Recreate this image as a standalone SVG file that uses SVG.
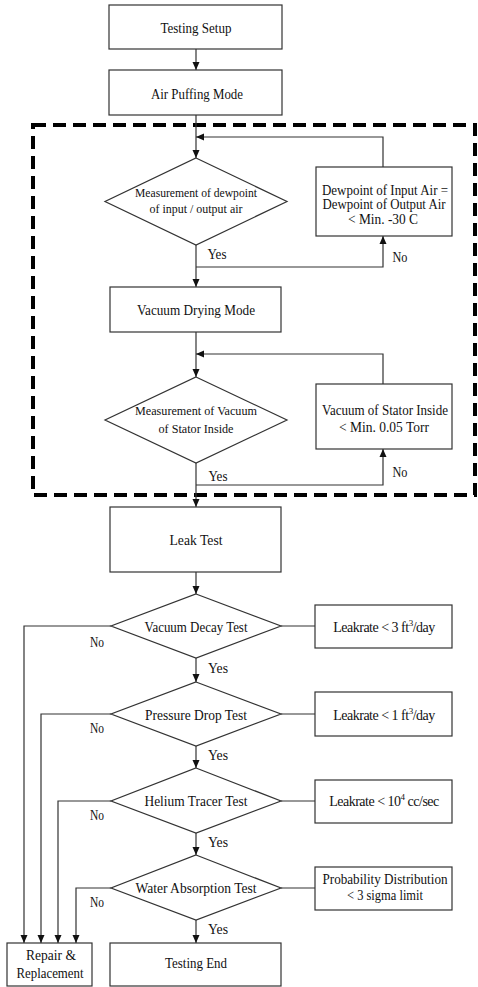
<svg xmlns="http://www.w3.org/2000/svg" width="478" height="987" viewBox="0 0 478 987">
<defs>
<marker id="ah" markerWidth="8" markerHeight="10" refX="8" refY="5" orient="auto" markerUnits="userSpaceOnUse">
<path d="M0,1.5 L8,5 L0,8.5 Z" fill="#111"/>
</marker>
<style>
text{font-family:"Liberation Serif","Times New Roman",serif;fill:#111;text-anchor:middle}
.n rect,.n polygon{fill:#fff;stroke:#333;stroke-width:1.2}
.c path{fill:none;stroke:#333;stroke-width:1.2}
.c .a{marker-end:url(#ah)}
.b{font-size:15px}
.s{font-size:11.5px}
.m{font-size:14px}
.l{font-size:15px}
.r{font-size:14px;letter-spacing:-0.5px}
.sup{font-size:9px}
</style>
</defs>
<rect width="478" height="987" fill="#fff"/>
<rect id="stage" x="33" y="125" width="442" height="370" fill="none" stroke="#000" stroke-width="4" stroke-dasharray="13 7"/>
<g class="c" id="connectors">
<path class="a" d="M196,49 V70"/>
<path class="a" d="M196,115 V158"/>
<path class="a" d="M383,167 V137 H196"/>
<path class="a" d="M196,245 V287"/>
<path class="a" d="M196,267 H383 V236"/>
<path class="a" d="M196,332 V377"/>
<path class="a" d="M383,384 V354 H196"/>
<path class="a" d="M196,463 V507"/>
<path class="a" d="M196,485 H383 V449"/>
<path class="a" d="M196,572 V594"/>
<path d="M281,626 H315"/>
<path class="a" d="M111,626 H24 V943"/>
<path class="a" d="M196,658 V682"/>
<path d="M281,714 H315"/>
<path class="a" d="M111,714 H41 V943"/>
<path class="a" d="M196,746 V768"/>
<path d="M281,801 H315"/>
<path class="a" d="M111,801 H58 V943"/>
<path class="a" d="M196,833 V855"/>
<path d="M281,888 H315"/>
<path class="a" d="M111,888 H76 V943"/>
<path class="a" d="M196,920 V943"/>
</g>
<g id="labels">
<text class="l" x="217" y="259" textLength="19" lengthAdjust="spacingAndGlyphs">Yes</text>
<text class="l" x="400" y="262" textLength="15" lengthAdjust="spacingAndGlyphs">No</text>
<text class="l" x="218" y="481" textLength="19" lengthAdjust="spacingAndGlyphs">Yes</text>
<text class="l" x="400" y="477" textLength="15" lengthAdjust="spacingAndGlyphs">No</text>
<text class="l" x="97" y="647" textLength="14" lengthAdjust="spacingAndGlyphs">No</text>
<text class="l" x="218" y="673" textLength="20" lengthAdjust="spacingAndGlyphs">Yes</text>
<text class="l" x="97" y="733" textLength="14" lengthAdjust="spacingAndGlyphs">No</text>
<text class="l" x="218" y="760" textLength="20" lengthAdjust="spacingAndGlyphs">Yes</text>
<text class="l" x="97" y="820" textLength="14" lengthAdjust="spacingAndGlyphs">No</text>
<text class="l" x="218" y="847" textLength="20" lengthAdjust="spacingAndGlyphs">Yes</text>
<text class="l" x="97" y="907" textLength="14" lengthAdjust="spacingAndGlyphs">No</text>
<text class="l" x="218" y="934" textLength="20" lengthAdjust="spacingAndGlyphs">Yes</text>
</g>
<g class="n" id="testing-setup"><rect x="109" y="5" width="173" height="44"/><text class="b" x="196" y="33" textLength="71" lengthAdjust="spacingAndGlyphs">Testing Setup</text></g>
<g class="n" id="air-puffing"><rect x="109" y="70" width="173" height="45"/><text class="b" x="197" y="99" textLength="92" lengthAdjust="spacingAndGlyphs">Air Puffing Mode</text></g>
<g class="n" id="dewpoint-measure"><polygon points="196,158 287,201.5 196,245 105,201.5"/>
<text class="s" x="196" y="197" textLength="122" lengthAdjust="spacingAndGlyphs">Measurement of dewpoint</text>
<text class="s" x="196" y="213" textLength="93" lengthAdjust="spacingAndGlyphs">of input / output air</text></g>
<g class="n" id="dewpoint-cond"><rect x="316" y="167" width="136" height="69"/>
<text class="m" x="385" y="195" textLength="126" lengthAdjust="spacingAndGlyphs">Dewpoint of Input Air =</text>
<text class="m" x="384" y="209" textLength="123" lengthAdjust="spacingAndGlyphs">Dewpoint of Output Air</text>
<text class="m" x="383" y="224" textLength="70" lengthAdjust="spacingAndGlyphs">&lt; Min. -30 C</text></g>
<g class="n" id="vacuum-drying"><rect x="110" y="287" width="171" height="45"/><text class="b" x="196" y="315" textLength="118" lengthAdjust="spacingAndGlyphs">Vacuum Drying Mode</text></g>
<g class="n" id="vacuum-measure"><polygon points="196,377 287,420 196,463 105,420"/>
<text class="s" x="196" y="415" textLength="122" lengthAdjust="spacingAndGlyphs">Measurement of Vacuum</text>
<text class="s" x="196" y="433" textLength="75" lengthAdjust="spacingAndGlyphs">of Stator Inside</text></g>
<g class="n" id="vacuum-cond"><rect x="316" y="384" width="136" height="65"/>
<text class="m" x="385" y="415" textLength="126" lengthAdjust="spacingAndGlyphs">Vacuum of Stator Inside</text>
<text class="m" x="384" y="432" textLength="90" lengthAdjust="spacingAndGlyphs">&lt; Min. 0.05 Torr</text></g>
<g class="n" id="leak-test"><rect x="110" y="507" width="171" height="65"/><text class="b" x="196" y="545" textLength="53" lengthAdjust="spacingAndGlyphs">Leak Test</text></g>
<g class="n" id="vacuum-decay"><polygon points="196,594 281,626 196,658 111,626"/><text class="b" x="196" y="632" textLength="103" lengthAdjust="spacingAndGlyphs">Vacuum Decay Test</text></g>
<g class="n" id="decay-cond"><rect x="315" y="605" width="137" height="43"/><text class="r" x="384" y="632">Leakrate &lt; 3 ft<tspan class="sup" dy="-6">3</tspan><tspan dy="6">/day</tspan></text></g>
<g class="n" id="pressure-drop"><polygon points="196,682 281,714 196,746 111,714"/><text class="b" x="196" y="720" textLength="102" lengthAdjust="spacingAndGlyphs">Pressure Drop Test</text></g>
<g class="n" id="pressure-cond"><rect x="315" y="692" width="137" height="44"/><text class="r" x="384" y="720">Leakrate &lt; 1 ft<tspan class="sup" dy="-6">3</tspan><tspan dy="6">/day</tspan></text></g>
<g class="n" id="helium-tracer"><polygon points="196,768 281,801 196,833 111,801"/><text class="b" x="196" y="806" textLength="103" lengthAdjust="spacingAndGlyphs">Helium Tracer Test</text></g>
<g class="n" id="helium-cond"><rect x="315" y="780" width="137" height="43"/><text class="r" x="384" y="806">Leakrate &lt; 10<tspan class="sup" dy="-6">4</tspan><tspan dy="6"> cc/sec</tspan></text></g>
<g class="n" id="water-absorption"><polygon points="196,855 281,888 196,920 111,888"/><text class="b" x="196" y="893" textLength="121" lengthAdjust="spacingAndGlyphs">Water Absorption Test</text></g>
<g class="n" id="water-cond"><rect x="315" y="867" width="137" height="43"/>
<text class="m" x="385" y="884" textLength="125" lengthAdjust="spacingAndGlyphs">Probability Distribution</text>
<text class="m" x="385" y="900" textLength="76" lengthAdjust="spacingAndGlyphs">&lt; 3 sigma limit</text></g>
<g class="n" id="repair"><rect x="7" y="943" width="85" height="43"/>
<text class="m" x="51" y="960" textLength="50" lengthAdjust="spacingAndGlyphs">Repair &amp;</text>
<text class="m" x="50" y="978" textLength="67" lengthAdjust="spacingAndGlyphs">Replacement</text></g>
<g class="n" id="testing-end"><rect x="110" y="943" width="171" height="43"/><text class="b" x="196" y="968" textLength="62" lengthAdjust="spacingAndGlyphs">Testing End</text></g>
</svg>
